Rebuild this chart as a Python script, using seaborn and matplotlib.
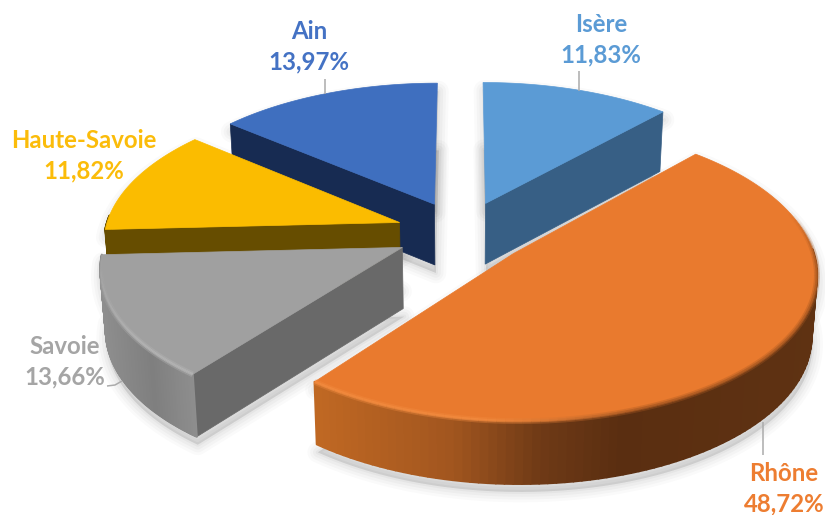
import numpy as np
import matplotlib
matplotlib.use("Agg")
import matplotlib.pyplot as plt
from matplotlib.collections import LineCollection, PolyCollection
from matplotlib.colors import to_rgb
from matplotlib.patches import Polygon
import seaborn as sns

# Shares per département, clockwise from twelve o'clock
departments = ["Isère", "Rhône", "Savoie", "Haute-Savoie", "Ain"]
shares = [11.83, 48.72, 13.66, 11.82, 13.97]

top_colors = ["#5B9BD5", "#E97A2E", "#A0A0A0", "#FBBC00", "#3F6FBF"]
cut_colors = ["#375F85", "#5E3012", "#696969", "#664D00", "#172B52"]
label_colors = ["#5B9BD5", "#ED7D31", "#A5A5A5", "#FBBC0A", "#4472C4"]

# Colour of the curved wall as a function of horizontal pixel position
wall_stops = {
    "Rhône": ([315, 450, 540, 620, 820],
              ["#C06823", "#A2561F", "#6F3A16", "#5A2E11", "#5F3212"]),
    "Savoie": ([100, 150, 195], ["#8E8E8E", "#7F7F7F", "#8F8F8F"]),
}

# Label centres and leader lines, in pixels
label_xy = {"Isère": (601, 40), "Rhône": (784, 489), "Savoie": (65, 362),
            "Haute-Savoie": (84, 156), "Ain": (309, 47)}
leaders = {"Isère": [(579, 71), (579, 91)], "Rhône": [(763, 422), (763, 455)],
           "Savoie": [(107, 386), (115, 385), (122, 381)],
           "Ain": [(325, 79), (325, 94)]}

# Perspective camera over the pie plane
CX, CY = 462.0, 232.5
SCALE_X, SCALE_Y = 295.0, 142.0
PERSPECTIVE = 0.12
EXPLODE = 0.225
DEPTH = 61.0
FLOOR_SCALE = 0.985


def top_plane(x, y):
    w = 1 + PERSPECTIVE * y
    return CX + SCALE_X * x / w, CY - SCALE_Y * y / w


def floor_plane(x, y):
    w = 1 + PERSPECTIVE * y
    sx, sy = top_plane(x, y)
    return (CX + (sx - CX) * FLOOR_SCALE,
            CY + (sy - CY) * FLOOR_SCALE + DEPTH / np.sqrt(w))


def gradient(stops, xs):
    pos, cols = stops
    rgb = np.array([to_rgb(c) for c in cols])
    return np.column_stack([np.interp(xs, pos, rgb[:, i]) for i in range(3)])


sns.set_theme(style="white")
plt.rcParams["font.family"] = ["Lato", "DejaVu Sans"]
palette = sns.color_palette(top_colors)

fig, ax = plt.subplots(figsize=(8.25, 5.15), dpi=100)
fig.subplots_adjust(0, 0, 1, 1)
ax.set_xlim(0, 825)
ax.set_ylim(515, 0)
ax.axis("off")

edges = np.radians(np.concatenate([[0], np.cumsum(shares)]) / sum(shares) * 360)
slices = []
for i, name in enumerate(departments):
    mid = (edges[i] + edges[i + 1]) / 2
    ox, oy = EXPLODE * np.sin(mid), EXPLODE * np.cos(mid)
    th = np.linspace(edges[i], edges[i + 1], 120)
    slices.append(dict(i=i, name=name, ox=ox, oy=oy, th=th,
                       rim_x=ox + np.sin(th), rim_y=oy + np.cos(th)))

# Soft contact shadows go underneath every slice
for s in slices:
    px = np.r_[s["ox"], s["rim_x"]]
    py = np.r_[s["oy"], s["rim_y"]]
    for plane in (top_plane, floor_plane):
        sx, sy = plane(px, py)
        outline = np.column_stack([sx + 1, sy + 8])
        for lw, alpha in zip((15, 11, 7, 3), (0.018, 0.022, 0.026, 0.03)):
            ax.add_patch(Polygon(outline, closed=True, fc=(0, 0, 0, alpha),
                                 ec=(0, 0, 0, alpha), lw=lw, joinstyle="round"))

# Painter's order: rear slices first, Rhône last
for key in ["Ain", "Isère", "Haute-Savoie", "Savoie", "Rhône"]:
    s = next(v for v in slices if v["name"] == key)
    i, th = s["i"], s["th"]
    top_xy = np.column_stack(top_plane(s["rim_x"], s["rim_y"]))
    low_xy = np.column_stack(floor_plane(s["rim_x"], s["rim_y"]))
    apex_top = np.array(top_plane(s["ox"], s["oy"]))
    apex_low = np.array(floor_plane(s["ox"], s["oy"]))

    # Reflection along Rhône's straight rear edge sits just under its top face
    if key == "Rhône":
        ax.plot([top_xy[0, 0], apex_top[0]], [top_xy[0, 1] + 1.5, apex_top[1] + 1.5],
                color="white", lw=1.6, alpha=0.9, solid_capstyle="butt", zorder=1)

    # Flat cut faces, only those turned towards the viewer
    if np.sin(th[0]) < -1e-6:
        ax.add_patch(Polygon([apex_top, top_xy[0], low_xy[0], apex_low],
                             closed=True, fc=cut_colors[i], ec=cut_colors[i], lw=0.5))
    if np.sin(th[-1]) > 1e-6:
        ax.add_patch(Polygon([apex_top, top_xy[-1], low_xy[-1], apex_low],
                             closed=True, fc=cut_colors[i], ec=cut_colors[i], lw=0.5))

    # Curved outer wall, cut into thin strips so it can carry a gradient
    strips, centres = [], []
    for j in range(len(top_xy) - 1):
        if np.cos(th[j]) < 0.05:
            strips.append(np.array([top_xy[j], top_xy[j + 1], low_xy[j + 1], low_xy[j]]))
            centres.append((top_xy[j, 0] + top_xy[j + 1, 0]) / 2)
    centres = np.array(centres)
    if strips:
        if key in wall_stops:
            wall = gradient(wall_stops[key], centres)
        else:
            wall = np.tile(to_rgb(cut_colors[i]), (len(strips), 1))
        ax.add_collection(PolyCollection(strips, facecolors=wall, edgecolors=wall,
                                         linewidths=1.5, joinstyle="round"))

    # Top face
    ax.add_patch(Polygon(np.vstack([apex_top, top_xy]), closed=True,
                         fc=palette[i], ec=palette[i], lw=0.5))

    # Bevel along the front of the rim, two soft passes
    if key in wall_stops:
        base = np.array(to_rgb(palette[i]))
        keep = np.cos(th[:-1]) < 0.3
        segs = np.stack([top_xy[:-1][keep], top_xy[1:][keep]], axis=1)
        mid_x = segs[:, :, 0].mean(axis=1)
        if key == "Savoie":
            rim = np.tile(np.clip(base + 0.09, 0, 1), (len(segs), 1))
            fade = np.clip((th[:-1][keep] - th[0]) / (th[-1] - th[0]), 0, 1)
            alpha = np.clip(1.4 - 1.4 * fade, 0, 1)
        else:
            frac = np.clip((mid_x - 480) / 160, 0, 1)[:, None]
            light = np.clip(base + [0.04, 0.07, 0.07], 0, 1)
            dark = gradient(wall_stops[key], mid_x)
            rim = light * (1 - frac) + (base * 0.55 + dark * 0.45) * frac
            # The dark edge dies away as the rim turns towards the back
            alpha = np.clip((0.3 - np.cos(th[:-1][keep])) / 0.35, 0, 1)
        for lw, strength in ((4.2, 0.35), (2.0, 0.7)):
            rgba = np.column_stack([rim, alpha * strength])
            ax.add_collection(LineCollection(segs, colors=rgba, linewidths=lw,
                                             capstyle="butt"))

for key, pts in leaders.items():
    xs, ys = zip(*pts)
    ax.plot(xs, ys, color="#ABABAB", lw=1.1, solid_capstyle="butt")

for i, name in enumerate(departments):
    value = f"{shares[i]:.2f}".replace(".", ",") + "%"
    x, y = label_xy[name]
    ax.text(x, y, f"{name}\n{value}", color=label_colors[i], fontsize=17.3,
            fontweight="bold", ha="center", va="center", linespacing=1.4)

fig.savefig("out.png", dpi=100)
